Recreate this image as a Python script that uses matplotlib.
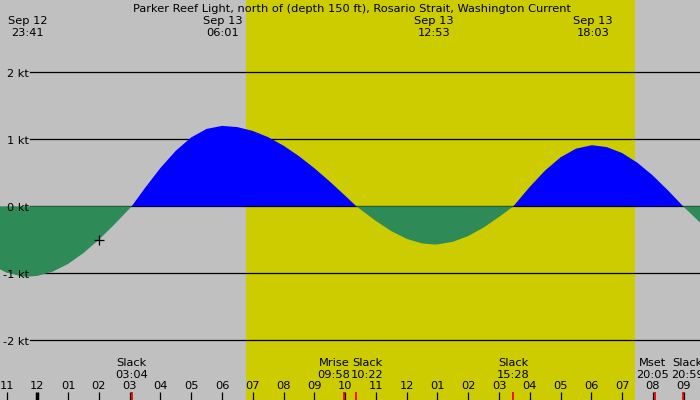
import matplotlib
matplotlib.use("Agg")
import matplotlib.pyplot as plt
from matplotlib import transforms

# time is hours from Sep 13 00:00, speed in knots (flood +, ebb -)
curve_t = [-1.5, -1.0, -0.5, -0.317, 0.0, 0.5, 1.0, 1.5, 2.0, 2.5, 3.0, 3.067,
           3.5, 4.0, 4.5, 5.0, 5.5, 6.0, 6.017, 6.5, 7.0, 7.5, 8.0, 8.5, 9.0,
           9.5, 10.0, 10.367, 10.5, 11.0, 11.5, 12.0, 12.5, 12.883, 13.0, 13.5,
           14.0, 14.5, 15.0, 15.467, 15.5, 16.0, 16.5, 17.0, 17.5, 18.0, 18.05,
           18.5, 19.0, 19.5, 20.0, 20.5, 20.983, 21.0, 21.5, 22.0]
curve_v = [-0.876, -0.99, -1.046, -1.05, -1.039, -0.975, -0.86, -0.698, -0.499,
           -0.274, -0.033, 0.0, 0.274, 0.572, 0.829, 1.028, 1.155, 1.2, 1.2,
           1.182, 1.125, 1.032, 0.905, 0.749, 0.569, 0.371, 0.159, 0.0, -0.047,
           -0.219, -0.37, -0.486, -0.554, -0.57, -0.569, -0.53, -0.444, -0.317,
           -0.16, 0.0, 0.018, 0.29, 0.535, 0.731, 0.86, 0.91, 0.91, 0.884,
           0.795, 0.649, 0.458, 0.233, 0.0, -0.008, -0.229, -0.438]

# max / min current events (top labels)
peak_t = [-0.317, 6.017, 12.883, 18.05]
peak_date = ["Sep 12", "Sep 13", "Sep 13", "Sep 13"]
peak_time = ["23:41", "06:01", "12:53", "18:03"]

# slack and moon events (bottom labels); offsets in pixels to keep them apart
event_t = [3.067, 9.967, 10.367, 15.467, 20.083, 20.983]
event_name = ["Slack", "Mrise", "Slack", "Slack", "Mset", "Slack"]
event_time = ["03:04", "09:58", "10:22", "15:28", "20:05", "20:59"]
event_shift = [0, -10, 11, 0, -3, 4]

hour_t = list(range(-1, 22))
hour_lab = ["11", "12", "01", "02", "03", "04", "05", "06", "07", "08", "09",
            "10", "11", "12", "01", "02", "03", "04", "05", "06", "07", "08", "09"]

sunrise, sunset = 6.78, 19.42
now_t, now_v = 2.0, -0.51
grid_kt = [2, 1, 0, -1, -2]

title = "Parker Reef Light, north of (depth 150 ft), Rosario Strait, Washington Current"

grey = "#c0c0c0"
yellow = "#cccc00"
blue = "#0000ff"
green = "#2e8b57"
fs = 8.2

fig = plt.figure(figsize=(7, 4), dpi=100, facecolor=grey)
ax = fig.add_axes([0, 0, 1, 1])
ax.set_facecolor(grey)
ax.set_xlim(-37.3 / 30.78, (700 - 37.3) / 30.78)
ax.set_ylim(-193.7 / 67, 206.3 / 67)
ax.axis("off")

ax.axvspan(sunrise, sunset, color=yellow, lw=0, zorder=0)

# grid lines + labels
for k in grid_kt:
    ax.plot([-0.237, 30], [k, k], color="black", lw=0.9, zorder=1)
    ax.text(-0.27, k - 0.064, f"{k} kt", ha="right", va="baseline", fontsize=fs)

ax.fill_between(curve_t, curve_v, 0, where=[v >= 0 for v in curve_v],
                interpolate=True, color=blue, lw=0, zorder=2)
ax.fill_between(curve_t, curve_v, 0, where=[v <= 0 for v in curve_v],
                interpolate=True, color=green, lw=0, zorder=2)

ax.plot([now_t], [now_v], marker="+", color="black", ms=7, mew=0.9, zorder=3)

bx = transforms.blended_transform_factory(ax.transData, ax.transAxes)

ax.text(10.24, 1 - 11.7 / 400, title, transform=bx, ha="center",
        va="baseline", fontsize=fs)

for t, d, hm in zip(peak_t, peak_date, peak_time):
    ax.text(t, 1 - 24 / 400, d, transform=bx, ha="center", va="baseline", fontsize=fs)
    ax.text(t, 1 - 36 / 400, hm, transform=bx, ha="center", va="baseline", fontsize=fs)

# red event ticks first, hour ticks on top
ax.vlines(event_t, 0, 8.5 / 400, transform=bx, color="red", lw=1.3, zorder=4)
for t, n, hm, s in zip(event_t, event_name, event_time, event_shift):
    ax.annotate(n, (t, 1 - 366.3 / 400), xycoords=bx, xytext=(s, 0),
                textcoords="offset pixels", ha="center", va="baseline", fontsize=fs)
    ax.annotate(hm, (t, 1 - 378 / 400), xycoords=bx, xytext=(s, 0),
                textcoords="offset pixels", ha="center", va="baseline", fontsize=fs)

for t, lab in zip(hour_t, hour_lab):
    ax.vlines(t, 0, 8.5 / 400, transform=bx, color="black",
              lw=2.5 if t == 0 else 0.9, zorder=5)
    ax.text(t, 1 - 389.3 / 400, lab, transform=bx, ha="center", va="baseline",
            fontsize=fs)

fig.savefig("out.png", dpi=100, facecolor=grey)
